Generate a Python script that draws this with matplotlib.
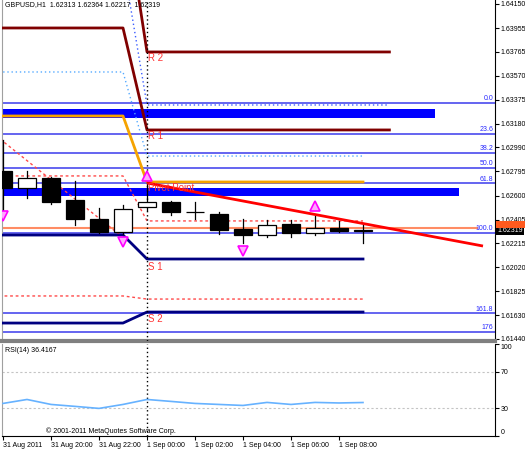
import numpy as np
import matplotlib
matplotlib.use("Agg")
import matplotlib.pyplot as plt
from matplotlib.patches import Rectangle
from matplotlib.transforms import blended_transform_factory
from matplotlib import font_manager

# 字体：有 Liberation Sans 就用它，窄一点像 MT4
names = {f.name for f in font_manager.fontManager.ttflist}
plt.rcParams['font.family'] = ['Liberation Sans' if 'Liberation Sans' in names else 'DejaVu Sans', 'DejaVu Sans']

# K线数据 (GBPUSD H1, 31 Aug 18:00 .. 1 Sep 09:00)
opens = [1.62799, 1.62661, 1.62742, 1.62564, 1.62411, 1.62305, 1.62508, 1.62548,
         1.62470, 1.62451, 1.62330, 1.62281, 1.62370, 1.62297, 1.62338, 1.62313]
highs = [1.63050, 1.62799, 1.62750, 1.62718, 1.62500, 1.62524, 1.62702, 1.62555,
         1.62548, 1.62467, 1.62411, 1.62402, 1.62402, 1.62435, 1.62394, 1.62364]
lows = [1.62459, 1.62581, 1.62535, 1.62362, 1.62300, 1.62290, 1.62483, 1.62443,
        1.62411, 1.62289, 1.62215, 1.62264, 1.62264, 1.62281, 1.62305, 1.62217]
closes = [1.62661, 1.62742, 1.62548, 1.62411, 1.62305, 1.62492, 1.62548, 1.62467,
          1.62465, 1.62321, 1.62281, 1.62362, 1.62297, 1.62338, 1.62312, 1.62319]
rsi_vals = [35.4, 39.7, 34.3, 32.2, 30.0, 34.3, 39.7, 37.6,
            35.4, 34.3, 33.2, 36.5, 34.3, 36.5, 35.9, 36.4]

time_ticks = [0, 2, 4, 6, 8, 10, 12, 14]
time_labels = ["31 Aug 2011", "31 Aug 20:00", "31 Aug 22:00", "1 Sep 00:00",
               "1 Sep 02:00", "1 Sep 04:00", "1 Sep 06:00", "1 Sep 08:00"]
price_ticks = [1.64150, 1.63955, 1.63765, 1.63570, 1.63375, 1.63180, 1.62990, 1.62795,
               1.62600, 1.62405, 1.62215, 1.62020, 1.61825, 1.61630, 1.61440]

# 枢轴点 (前一天 / 当天)
pivot_names = ["R 2", "R 1", "Pivot Point", "S 1", "S 2"]
pivot_prev = [1.65024, 1.63956, 1.63244, 1.62281, 1.61569]
pivot_today = [1.63762, 1.63131, 1.62710, 1.62087, 1.61658]
pivot_end = [16.1, 16.1, 15, 15, 15]
pivot_colors = ['#800000', '#800000', '#f5a300', '#000080', '#000080']
# 中间线
mid_prev = [1.64490, 1.63600, 1.62759, 1.61788]
mid_today = [1.63333, 1.62920, 1.62395, 1.61763]
mid_end = [16.1, 15, 15, 15]
mid_colors = ['#3a5cff', '#55aaff', '#ff4a4a', '#ff4a4a']
mid_styles = [(0, (1, 2)), (0, (1, 2)), (0, (2, 2)), (0, (2, 2))]

# 斐波那契
fib_labels = ["0.0", "23.6", "38.2", "50.0", "61.8", "100.0", "161.8", "176"]
fib_levels = [0, 23.6, 38.2, 50, 61.8, 100, 161.8, 176]
fib_top, fib_bottom = 1.63349, 1.62297

# 蓝色矩形区域
zone_low = [1.63228, 1.62597]
zone_high = [1.63301, 1.62661]
zone_end = [18.0, 19.0]

trend_x, trend_y = [6, 20], [1.62702, 1.62192]
dash_x, dash_y = [-0.125, 4.875], [1.63058, 1.62281]
bid_level, bid_end = 1.62338, 19.75

frac_up_idx, frac_up_price = [6, 13], [1.62759, 1.62516]
frac_dn_idx, frac_dn_price = [0, 5, 10], [1.62435, 1.62225, 1.62152]

W, H = 525, 450
fig = plt.figure(figsize=(W / 100, H / 100), dpi=100, facecolor='white')
ax = fig.add_axes([2 / W, 1 - 341 / H, 493 / W, 341 / H])
ax2 = fig.add_axes([2 / W, 1 - 436 / H, 493 / W, 92 / H])
k = 0.0000809
ax.set_xlim(-0.042, 20.5)
ax.set_ylim(1.64150 - 337 * k, 1.64150 + 4 * k)

for i, z0 in enumerate(zone_low):
    ax.add_patch(Rectangle((-2, z0), zone_end[i] + 2, zone_high[i] - z0, fc='#0000ff', ec='none', zorder=1))

for lv, lab in zip(fib_levels, fib_labels):
    p = fib_top - (fib_top - fib_bottom) * lv / 100
    ax.axhline(p, color='#4a4aee', lw=1.2, zorder=2)
    ax.annotate(lab, (20.42, p), xytext=(0, 0.5), textcoords='offset points', ha='right', va='bottom',
                fontsize=5, color='#2828ff', zorder=6)

ax.plot([-1, bid_end], [bid_level, bid_level], color='#ff8c64', lw=1.5, zorder=2)

for prv, tod, end, c, ls in zip(mid_prev, mid_today, mid_end, mid_colors, mid_styles):
    ax.plot([-1, 5, 6, end], [prv, prv, tod, tod], color=c, lw=1, ls=ls, zorder=3)
ax.plot(dash_x, dash_y, color='#ff4a4a', lw=1, ls=(0, (2, 2)), zorder=3)

for prv, tod, end, c in zip(pivot_prev, pivot_today, pivot_end, pivot_colors):
    ax.plot([-1, 5, 6, end], [prv, prv, tod, tod], color=c, lw=2, zorder=3)

ax.axvline(6, color='black', lw=1, ls=(0, (1, 2)), zorder=3)
ax2.axvline(6, color='black', lw=1, ls=(0, (1, 2)), zorder=3)

for i in range(len(opens)):
    o, h, l, c = opens[i], highs[i], lows[i], closes[i]
    ax.plot([i, i], [l, h], color='black', lw=0.9, zorder=4)
    fc = 'black' if c < o else 'white'
    ax.add_patch(Rectangle((i - 0.375, min(o, c)), 0.75, max(abs(c - o), 1e-6),
                           fc=fc, ec='black', lw=0.9, zorder=5))

ax.plot(trend_x, trend_y, color='#ff0000', lw=2, zorder=6, solid_capstyle='butt')

ax.plot(frac_up_idx, frac_up_price, ls='none', marker='^', ms=7, mfc='#ffa8ff', mec='#ff00ff', mew=1.2, zorder=6)
ax.plot(frac_dn_idx, frac_dn_price, ls='none', marker='v', ms=7, mfc='#ffa8ff', mec='#ff00ff', mew=1.2, zorder=6)

text_offsets = [-1, -1, -0.5, -2.5, -1.5]
for name, tod, off in zip(pivot_names, pivot_today, text_offsets):
    ax.annotate(name, (6, tod), xytext=(1, off), textcoords='offset points', ha='left', va='top',
                fontsize=7, color='#ff3333', zorder=7)

# 右侧价格轴
ax.yaxis.tick_right()
ax.set_yticks(price_ticks)
ax.set_yticklabels([f"{p:.5f}" for p in price_ticks])
ax.tick_params(axis='y', labelsize=5, length=3, pad=1, direction='out', width=0.8)
ax.set_xticks([])
ax.spines['top'].set_visible(False)
ax.spines['right'].set_color('black')
ax.spines['left'].set_color('#a0a0a0')
ax.spines['bottom'].set_color('#808080')
ax.spines['bottom'].set_linewidth(3)

# 当前价格标签 (橙色的那个基本被挡住)
fig.add_artist(Rectangle((496 / W, 1 - 228 / H), 29 / W, 7 / H, transform=fig.transFigure,
                         fc='#ff5a1e', ec='none', zorder=8))
tr = blended_transform_factory(ax.transAxes, ax.transData)
ax.text(1.004, closes[-1], f"{closes[-1]:.5f}", transform=tr, fontsize=5, color='white', va='center', ha='left',
        bbox=dict(fc='black', ec='none', pad=1.2), clip_on=False, zorder=9)

fig.text(5 / W, 1 - 5 / H, "GBPUSD,H1  1.62313 1.62364 1.62217  1.62319", fontsize=5, va='center', ha='left')

# RSI
ax2.set_xlim(ax.get_xlim())
ax2.set_ylim(0, 100)
ax2.plot(range(len(rsi_vals)), rsi_vals, color='#66b2ff', lw=1.2, zorder=4)
for lvl in [30, 70]:
    ax2.axhline(lvl, color='#c4c4c4', lw=0.8, ls=(0, (2, 2)))
ax2.yaxis.tick_right()
ax2.set_yticks([0, 30, 70, 100])
ax2.set_yticklabels(["0", "30", "70", "100"])
ax2.tick_params(axis='y', labelsize=5, length=3, pad=1, width=0.8)
labs = ax2.get_yticklabels()
labs[0].set_va('bottom')
labs[-1].set_va('top')
ax2.set_xticks(time_ticks)
ax2.set_xticklabels(time_labels, ha='left')
ax2.tick_params(axis='x', labelsize=5, length=3, pad=1, width=0.8)
ax2.spines['top'].set_visible(False)
ax2.spines['left'].set_color('#a0a0a0')
fig.text(5 / W, 1 - 351 / H, "RSI(14) 36.4167", fontsize=5, va='center', ha='left')
fig.text(46 / W, 1 - 431 / H, "© 2001-2011 MetaQuotes Software Corp.", fontsize=5, va='center', ha='left')

fig.savefig('out.png', dpi=100, facecolor='white')
